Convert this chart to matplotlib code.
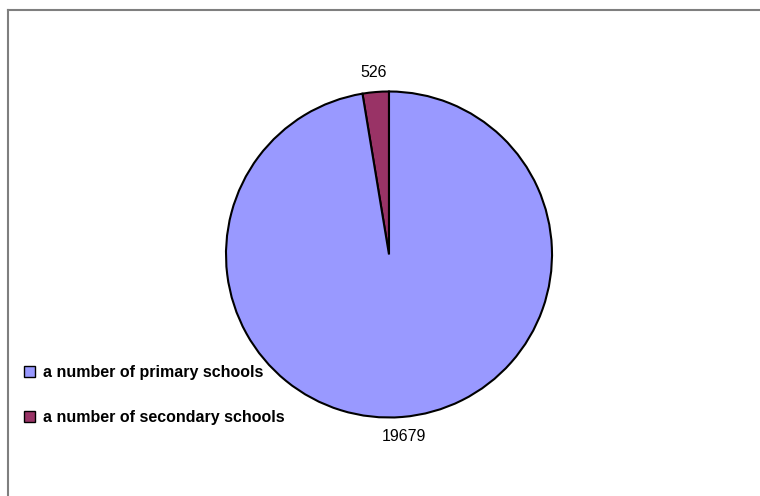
import matplotlib
matplotlib.use("Agg")
import matplotlib.pyplot as plt
from matplotlib.patches import Patch
from matplotlib.lines import Line2D
import numpy as np

categories = ["a number of secondary schools", "a number of primary schools"]
values = [526, 19679]
colors = ["#993366", "#9999FF"]

plt.rcParams['font.family'] = ['Liberation Sans', 'DejaVu Sans']

W, H = 760, 496
fig = plt.figure(figsize=(W/100, H/100), dpi=100)
fig.patch.set_facecolor("white")

cx, cy, r = 389, 241.5, 163
ax = fig.add_axes([(cx - r)/W, (cy - r)/H, 2*r/W, 2*r/H])
wedges, texts = ax.pie(values, colors=colors, startangle=90, counterclock=True,
                       labels=[str(v) for v in values], labeldistance=1.12,
                       wedgeprops=dict(edgecolor="black", linewidth=1.5),
                       textprops=dict(fontsize=11.5, color="black"))
for t in texts:
    t.set_ha("center")
    t.set_va("center")
ax.set_xlim(-1, 1)
ax.set_ylim(-1, 1)
ax.set_aspect("equal")
ax.axis("off")

# border (top and left lines)
fig.add_artist(Line2D([7.5/W, 7.5/W], [0, 1 - 9.5/H], transform=fig.transFigure,
                      color="#7f7f7f", linewidth=1.5))
fig.add_artist(Line2D([7.5/W, 1], [1 - 9.5/H, 1 - 9.5/H], transform=fig.transFigure,
                      color="#7f7f7f", linewidth=1.5))

handles = [Patch(facecolor=colors[1], edgecolor="black", linewidth=1.0),
           Patch(facecolor=colors[0], edgecolor="black", linewidth=1.0)]
labels = [categories[1], categories[0]]
fig.legend(handles, labels, loc="center left", bbox_to_anchor=(24/W, 1 - 395/H),
           frameon=False, prop=dict(weight="bold", size=11.5),
           handlelength=0.7, handleheight=0.7, handletextpad=0.5,
           labelspacing=1.85, borderpad=0, borderaxespad=0)

fig.savefig("out.png", dpi=100, facecolor="white")
